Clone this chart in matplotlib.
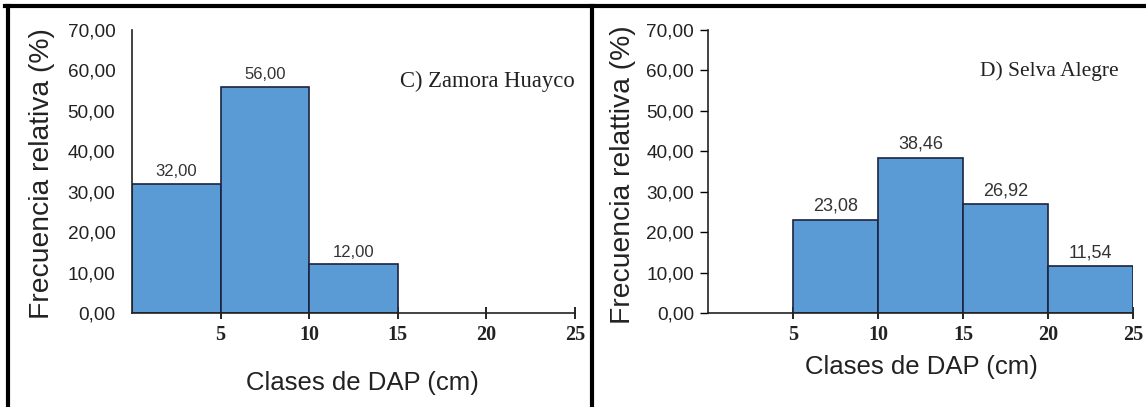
import matplotlib.pyplot as plt
from matplotlib.lines import Line2D

# data
zamora_left = [0, 5, 10]
zamora_freq = [32.00, 56.00, 12.00]
selva_left = [5, 10, 15, 20]
selva_freq = [23.08, 38.46, 26.92, 11.54]
y_ticks = [0, 10, 20, 30, 40, 50, 60, 70]
x_ticks = [5, 10, 15, 20, 25]

bar_color = "#5B9BD5"
edge_color = "#1C2340"
W, H = 1146, 407

fig = plt.figure(figsize=(W / 100, H / 100), dpi=100)
fig.patch.set_facecolor("white")


def fmt(v):
    return f"{v:.2f}".replace(".", ",")


def panel(rect, lefts, freqs, title, title_xy, title_size, val_size, yticks_out):
    ax = fig.add_axes(rect)
    bars = ax.bar(lefts, freqs, width=5, align="edge", color=bar_color,
                  edgecolor=edge_color, linewidth=1.2, zorder=2)
    for b, v in zip(bars, freqs):
        ax.text(b.get_x() + b.get_width() / 2, v + 1.2, fmt(v), ha="center",
                va="bottom", fontsize=val_size, color="#333333",
                family="Liberation Sans")
    ax.set_xlim(0, 25)
    ax.set_ylim(0, 70)
    ax.set_yticks(y_ticks)
    ax.set_yticklabels([fmt(v) for v in y_ticks], family="Liberation Sans",
                       fontsize=13.7, color="#222222")
    ax.set_xticks(x_ticks)
    ax.set_xticklabels([str(v) for v in x_ticks], family="Liberation Serif",
                       fontweight="bold", fontsize=14.5, color="#222222")
    ax.tick_params(axis="x", direction="inout", length=8, width=1.2, pad=5)
    if yticks_out:
        ax.tick_params(axis="y", direction="out", length=6, width=1.0, pad=4)
    else:
        ax.tick_params(axis="y", length=0, pad=12)
    for s in ("top", "right"):
        ax.spines[s].set_visible(False)
    for s in ("left", "bottom"):
        ax.spines[s].set_linewidth(1.2)
        ax.spines[s].set_color("#222222")
    ax.text(title_xy[0], title_xy[1], title, transform=ax.transAxes,
            family="Liberation Serif", fontsize=title_size, color="#222222",
            ha="left", va="center")
    return ax


ax1 = panel([132 / W, 1 - 313 / H, 443 / W, 283 / H], zamora_left, zamora_freq,
            "C) Zamora Huayco", (0.605, 0.82), 16.3, 12, False)
ax2 = panel([708 / W, 1 - 313 / H, 425 / W, 283 / H], selva_left, selva_freq,
            "D) Selva Alegre", (0.64, 0.855), 15.5, 13, True)

# axis titles placed as figure text
fig.text(42 / W, 1 - 174 / H, "Frecuencia relativa (%)", rotation=90,
         ha="center", va="center", family="Liberation Sans", fontsize=20.3,
         color="#222222")
fig.text(623 / W, 1 - 175 / H, "Frecuencia relattiva (%)", rotation=90,
         ha="center", va="center", family="Liberation Sans", fontsize=20.3,
         color="#222222")
fig.text(362 / W, 1 - 383 / H, "Clases de DAP (cm)", ha="center", va="center",
         family="Liberation Sans", fontsize=18.5, color="#222222")
fig.text(921 / W, 1 - 367 / H, "Clases de DAP (cm)", ha="center", va="center",
         family="Liberation Sans", fontsize=18.5, color="#222222")

# black frame lines of the composed figure
frame = dict(color="black", linewidth=3, transform=fig.transFigure)
fig.add_artist(Line2D([5 / W, 1], [1 - 6 / H, 1 - 6 / H], **frame))
fig.add_artist(Line2D([8 / W, 8 / W], [0, 1 - 6 / H], **frame))
fig.add_artist(Line2D([592 / W, 592 / W], [0, 1 - 6 / H], **frame))

fig.savefig("out.png", dpi=100)
